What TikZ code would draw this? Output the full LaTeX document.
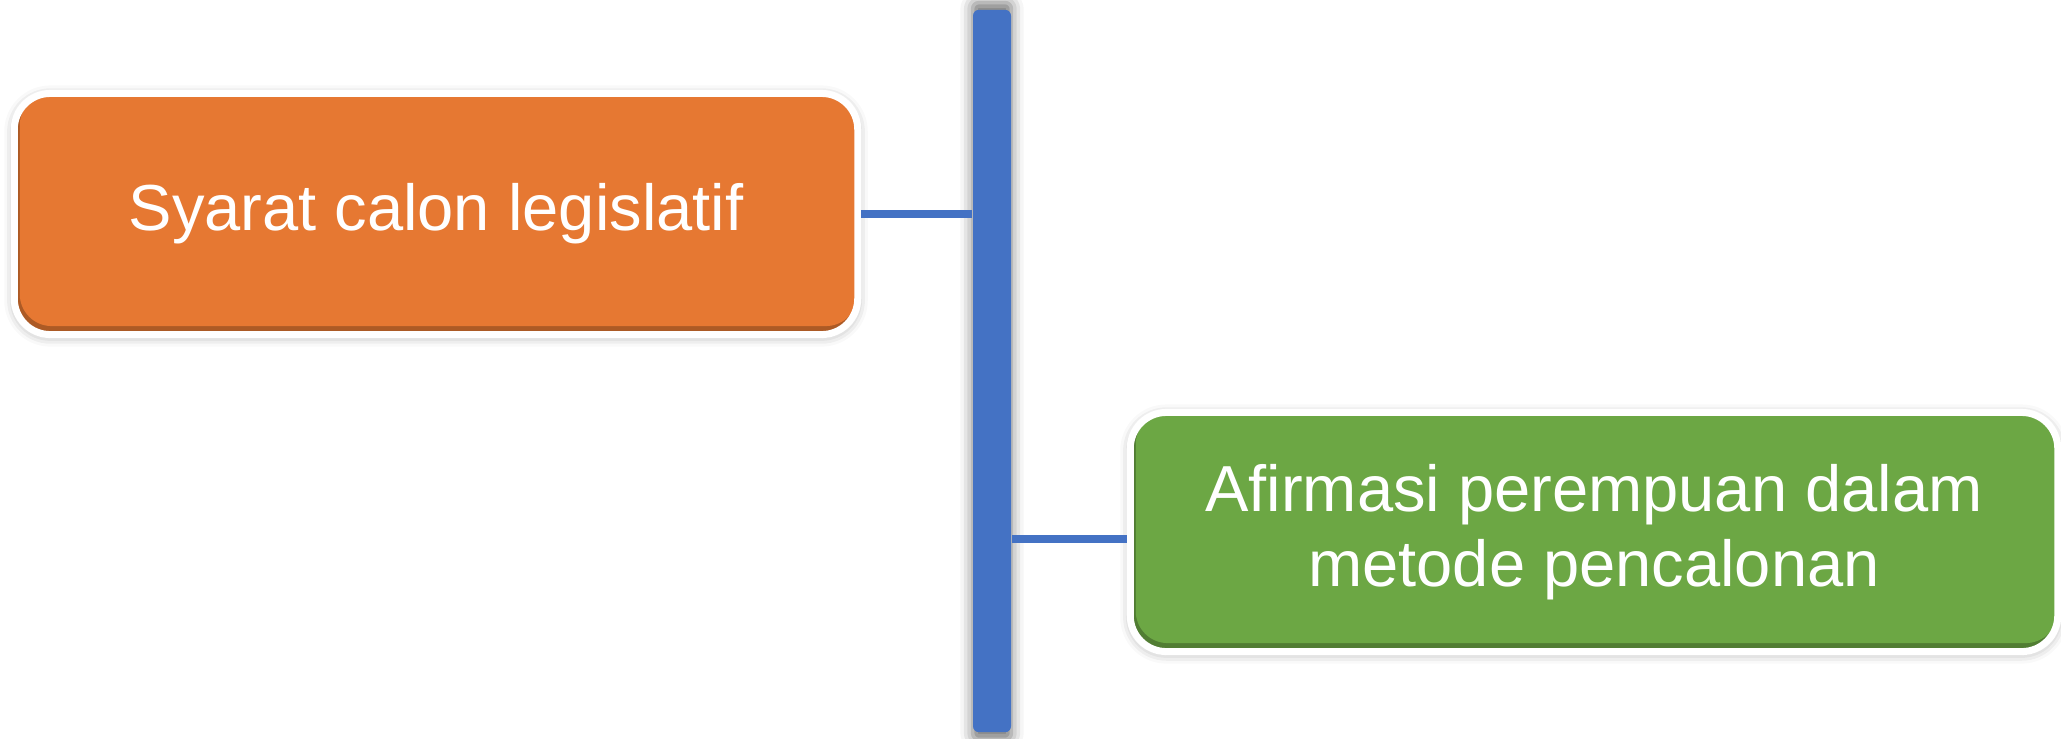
\documentclass[tikz,border=0pt]{standalone}
\usepackage{fontspec}
\setmainfont{Liberation Sans}
\usepackage{tikz}
\usetikzlibrary{positioning, shadows.blur}
\definecolor{spineblue}{HTML}{4472C4}
\definecolor{topicorange}{HTML}{E67832}
\definecolor{topicgreen}{HTML}{6CA744}

\begin{document}
\begin{tikzpicture}[
    x=0.01cm, y=-0.01cm,
    topic/.style={rounded corners=0.36cm, draw=white, line width=0.07cm, text=white, align=center,
        font=\fontsize{18.5}{21.3}\selectfont, inner sep=0pt, fill=#1!75!black,
        path picture={\fill[#1, rounded corners=0.32cm]
            ([xshift=0.055cm, yshift=0.085cm]path picture bounding box.south west)
            rectangle (path picture bounding box.north east);},
        blur shadow={shadow xshift=0pt, shadow yshift=-0.02cm, shadow blur radius=0.1cm, shadow opacity=35}},
    spine/.style={rounded corners=0.06cm, fill=spineblue, minimum width=0.38cm, minimum height=7.22cm, inner sep=0pt,
        blur shadow={shadow xshift=0pt, shadow yshift=0pt, shadow scale=1.02, shadow blur radius=0.12cm, shadow opacity=55}},
    link/.style={draw=spineblue, line width=0.08cm}
]
\useasboundingbox (0,0) rectangle (2061,738);
% vertical bar
\node[spine] (axis) at (992,371) {};
% the two topics
\node[topic=topicorange, minimum width=8.43cm, minimum height=2.41cm] (syarat) at (436,214) {Syarat calon legislatif};
\node[topic=topicgreen, minimum width=9.27cm, minimum height=2.39cm] (afirmasi) at (1594,532)
    {Afirmasi perempuan dalam\\metode pencalonan};
% links to the bar
\draw[link] (syarat.east) -- (syarat.east -| axis.west);
\draw[link] ([yshift=-0.07cm]afirmasi.west) -- ([yshift=-0.07cm]afirmasi.west -| axis.east);
\end{tikzpicture}
\end{document}
